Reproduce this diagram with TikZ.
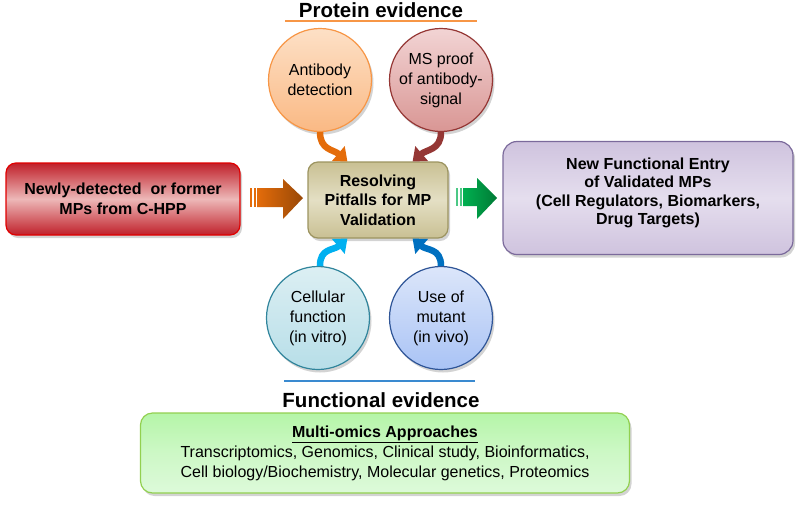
\documentclass[tikz,border=0pt]{standalone}
\usepackage{fontspec}
\setmainfont{Liberation Sans}
\usetikzlibrary{arrows.meta,shadows,calc}
\definecolor{redB}{HTML}{E00000}
\definecolor{redD}{HTML}{C0202A}
\definecolor{redL}{HTML}{EDB8B8}
\definecolor{tanB}{HTML}{9C9460}
\definecolor{tanL}{HTML}{E4DFC4}
\definecolor{tanD}{HTML}{C9C093}
\definecolor{purB}{HTML}{7B6A9B}
\definecolor{purL}{HTML}{E5DEEE}
\definecolor{purD}{HTML}{CFC3DE}
\definecolor{orB}{HTML}{F79646}
\definecolor{orL}{HTML}{FDE0C6}
\definecolor{orD}{HTML}{FAB984}
\definecolor{msB}{HTML}{953735}
\definecolor{msL}{HTML}{F2D4D4}
\definecolor{msD}{HTML}{D99694}
\definecolor{cyB}{HTML}{31859C}
\definecolor{cyL}{HTML}{DCEFF3}
\definecolor{cyD}{HTML}{B7DEE8}
\definecolor{buB}{HTML}{2F5597}
\definecolor{buL}{HTML}{DCE6FA}
\definecolor{buD}{HTML}{A9C3F5}
\definecolor{grB}{HTML}{92D050}
\definecolor{grL}{HTML}{DDFADA}
\definecolor{grD}{HTML}{B5F5A8}
\definecolor{arOr}{HTML}{E46C0A}
\definecolor{arBr}{HTML}{984807}
\definecolor{arG1}{HTML}{00B050}
\definecolor{arG2}{HTML}{007A35}
\definecolor{arCy}{HTML}{00B0F0}
\definecolor{arBu}{HTML}{0070C0}
\definecolor{lnBu}{HTML}{3A8AD0}
\tikzset{
  shad/.style={drop shadow={opacity=0.35,shadow xshift=2pt,shadow yshift=-3pt}},
  rbox/.style={rounded corners=10pt, align=center, line width=1.2pt, shad},
  bub/.style={circle, minimum size=103pt, inner sep=0pt, align=center, line width=1.2pt, shad, font=\fontsize{16}{20}\selectfont},
  curv/.style={line width=6.5pt, -{Triangle[length=12pt,width=19pt]}},
  ttl/.style={font=\fontsize{20.5}{24}\selectfont\bfseries},
}
\begin{document}
\begin{tikzpicture}[x=1pt,y=-1pt]
\useasboundingbox (0,0) rectangle (800,504);

% titles and rules
\node[ttl] (ptitle) at (381,10) {Protein evidence};
\draw[orB, line width=1.5pt] (285,21) -- (477,21);
\draw[lnBu, line width=1.5pt] (284,381) -- (475,381);
\node[ttl] (ftitle) at (381,400) {Functional evidence};

% boxes
\node[rbox, draw=redB, top color=redD, bottom color=redD, middle color=redL,
      minimum width=234pt, minimum height=72pt, font=\fontsize{16}{20}\selectfont\bfseries]
  (left) at (123,199) {\raisebox{0pt}{Newly-detected\ \ or former}\\MPs from C-HPP};
\node[rbox, draw=tanB, top color=tanD, bottom color=tanD, middle color=tanL,
      minimum width=140pt, minimum height=76pt, font=\fontsize{16}{19.5}\selectfont\bfseries]
  (ctr) at (378,200) {Resolving\\Pitfalls for MP\\Validation};
\node[rbox, draw=purB, top color=purD, bottom color=purD, middle color=purL,
      minimum width=290pt, minimum height=113pt, rounded corners=14pt]
  (right) at (648,198) {};
\node[align=center, font=\fontsize{16}{18.5}\selectfont\bfseries] (rtext) at ($(right.center)+(0,-5)$)
  {New Functional Entry\\of Validated MPs\\(Cell Regulators, Biomarkers,\\Drug Targets)};
\node[rbox, draw=grB, top color=grD, bottom color=grL, middle color=grL!60!grD,
      minimum width=489pt, minimum height=80pt, rounded corners=12pt, font=\fontsize{16}{20}\selectfont]
  (omics) at (385,453) {\textbf{\underline{Multi-omics\ Approaches}}\\Transcriptomics, Genomics, Clinical study, Bioinformatics,\\Cell biology/Biochemistry, Molecular genetics, Proteomics};

% circles
\node[bub, draw=orB, top color=orL, bottom color=orD] (ab) at (320,80) {Antibody\\detection};
\node[bub, draw=msB, top color=msL, bottom color=msD] (ms) at (441,80) {MS proof\\of antibody-\\signal};
\node[bub, draw=cyB, top color=cyL, bottom color=cyD] (cell) at (318,318) {Cellular\\function\\(in vitro)};
\node[bub, draw=buB, top color=buL, bottom color=buD] (mut) at (441,318) {Use of\\mutant\\(in vivo)};

% curved arrows
\draw[curv, arOr] (ab.south) .. controls +(0,18) and +(-14,-12) .. ($(ctr.north west)+(40,0)$);
\draw[curv, msB] (ms.south) .. controls +(0,18) and +(14,-12) .. ($(ctr.north east)+(-36,0)$);
\draw[curv, arCy] ($(cell.north)+(2,0)$) .. controls +(0,-18) and +(-14,12) .. ($(ctr.south west)+(40,0)$);
\draw[curv, arBu] (mut.north) .. controls +(0,-18) and +(14,12) .. ($(ctr.south east)+(-36,0)$);

% striped block arrows
\fill[arOr] (250,188) rectangle (252,207);
\fill[arOr] (253.5,188) rectangle (255.5,207);
\shade[left color=arOr, right color=arBr] (257,188) -- (283,188) -- (283,179) -- (303,198) -- (283,219) -- (283,207) -- (257,207) -- cycle;
\fill[arG1!70] (456,188) rectangle (458,206);
\fill[arG1!70] (459.5,188) rectangle (461.5,206);
\shade[left color=arG1, right color=arG2] (463,188) -- (477,188) -- (477,178) -- (497,198) -- (477,219) -- (477,206) -- (463,206) -- cycle;
\end{tikzpicture}
\end{document}
